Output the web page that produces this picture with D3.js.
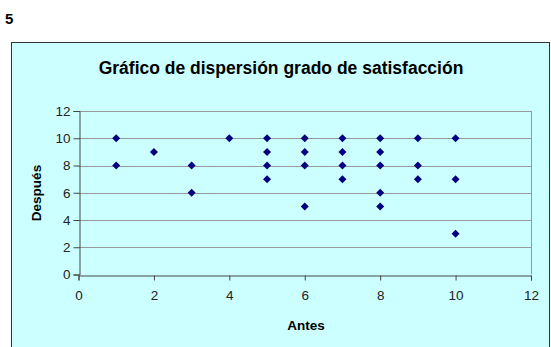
<!DOCTYPE html>
<html>
<head>
<meta charset="utf-8">
<script src="https://cdn.jsdelivr.net/npm/d3@7"></script>
<style>
  body { margin: 0; background: #fff; }
  svg { display: block; font-family: "Liberation Sans", Arial, sans-serif; }
</style>
</head>
<body>
<svg id="chart" width="551" height="347"></svg>
<script>
// data: (antes, despues)
const antes   = [1, 1, 2, 3, 3, 4, 5, 5, 5, 5, 6, 6, 6, 6, 7, 7, 7, 7, 8, 8, 8, 8, 8, 9, 9, 9, 10, 10, 10];
const despues = [10, 8, 9, 8, 6, 10, 10, 9, 8, 7, 10, 9, 8, 5, 10, 9, 8, 7, 10, 9, 8, 6, 5, 10, 8, 7, 10, 7, 3];
const xTicks = [0, 2, 4, 6, 8, 10, 12];
const yTicks = [0, 2, 4, 6, 8, 10, 12];

const points = antes.map((a, i) => ({ x: a, y: despues[i] }));

const svg = d3.select("#chart");

svg.append("text")
  .attr("x", 5).attr("y", 24)
  .style("font-size", "15px").style("font-weight", "bold")
  .text("5");

// chart box
svg.append("rect")
  .attr("x", 11.5).attr("y", 42.5)
  .attr("width", 538).attr("height", 320)
  .attr("fill", "#ccffff")
  .attr("stroke", "#333").attr("stroke-width", 1);

svg.append("text")
  .attr("x", 281).attr("y", 74)
  .attr("text-anchor", "middle")
  .style("font-size", "17.5px").style("font-weight", "bold")
  .text("Gráfico de dispersión grado de satisfacción");

const margin = { left: 78.5, top: 111, right: 531, bottom: 274.5 };

const x = d3.scaleLinear().domain([0, 12]).range([margin.left, margin.right]);
const y = d3.scaleLinear().domain([0, 12]).range([margin.bottom, margin.top]);

// gridlines
svg.append("g")
  .selectAll("line")
  .data(yTicks.filter(d => d > 0))
  .enter().append("line")
  .attr("x1", x(0)).attr("x2", x(12))
  .attr("y1", d => Math.round(y(d)) + 0.5).attr("y2", d => Math.round(y(d)) + 0.5)
  .attr("stroke", "#999999");

// right border of plot area
svg.append("line")
  .attr("x1", Math.round(x(12)) + 0.5).attr("x2", Math.round(x(12)) + 0.5)
  .attr("y1", y(0)).attr("y2", y(12))
  .attr("stroke", "#999999");

const xAxis = svg.append("g")
  .attr("transform", `translate(0,${Math.round(y(0)) + 0.5})`)
  .call(d3.axisBottom(x).tickValues(xTicks).tickSize(5).tickPadding(10));

const yAxis = svg.append("g")
  .attr("transform", `translate(${Math.round(x(0)) + 0.5},0)`)
  .call(d3.axisLeft(y).tickValues(yTicks).tickSize(6).tickPadding(3));

[xAxis, yAxis].forEach(a => {
  a.select(".domain").attr("stroke", "#444");
  a.selectAll(".tick line").attr("stroke", "#444");
  a.selectAll("text")
    .attr("fill", "#222")
    .style("font-size", "13.5px")
    .style("font-family", "\"Liberation Sans\", Arial, sans-serif");
});

svg.append("text")
  .attr("x", 306).attr("y", 330)
  .attr("text-anchor", "middle")
  .style("font-size", "13.5px").style("font-weight", "bold")
  .text("Antes");

svg.append("text")
  .attr("transform", "translate(41,193) rotate(-90)")
  .attr("text-anchor", "middle")
  .style("font-size", "13.5px").style("font-weight", "bold")
  .text("Después");

// diamond markers
const diamond = d3.symbol().type(d3.symbolSquare).size(32);
svg.append("g")
  .selectAll("path")
  .data(points)
  .enter().append("path")
  .attr("d", diamond)
  .attr("transform", d => `translate(${x(d.x)},${y(d.y)}) rotate(45)`)
  .attr("fill", "#000080");
</script>
</body>
</html>
